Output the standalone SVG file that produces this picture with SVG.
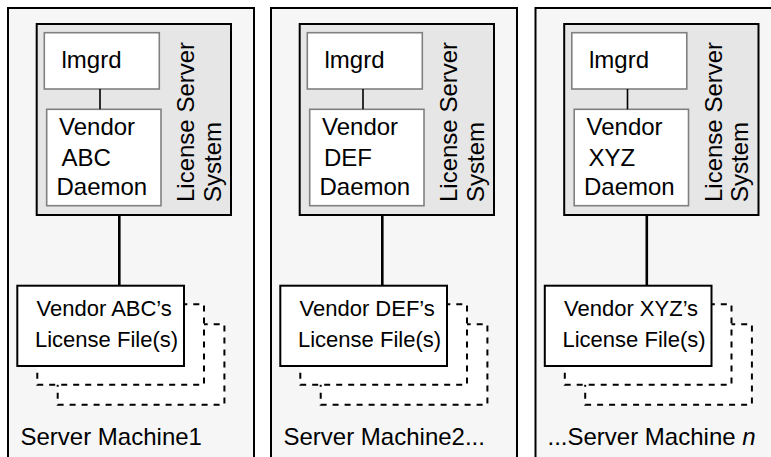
<svg xmlns="http://www.w3.org/2000/svg" width="771" height="457" viewBox="0 0 771 457">
<defs>
<style>
.panel{fill:#f6f6f6;stroke:#000;stroke-width:2}
.lss{fill:#e6e6e6;stroke:#000;stroke-width:2}
.inner{fill:#fff;stroke:#808080;stroke-width:1.6}
.file{fill:#fff;stroke:#000;stroke-width:2}
.dash{fill:#fff;stroke:#000;stroke-width:2;stroke-dasharray:6,6}
.thin{stroke:#000;stroke-width:1.6;fill:none}
.thick{stroke:#000;stroke-width:2.6;fill:none}
text{font-family:"Liberation Sans",Arial,Helvetica,sans-serif;fill:#000}
.t{font-size:24px}
.f{font-size:22px}
</style>
<g id="machineTpl">
<rect class="panel" x="8" y="8" width="246" height="470"/>
<rect class="lss" x="36.7" y="24" width="194.3" height="191"/>
<rect class="inner" x="44.3" y="32.7" width="115" height="56.3"/>
<rect class="inner" x="46.7" y="109.3" width="114.3" height="96.4"/>
<text class="t" x="61.5" y="67.7">lmgrd</text>
<text class="t" transform="translate(194,202) rotate(-90)">License Server</text>
<text class="t" transform="translate(220.5,202) rotate(-90)">System</text>
<rect class="dash" x="57.7" y="324.3" width="166.7" height="80.5"/>
<rect class="dash" x="37.3" y="304.3" width="166.7" height="80.5"/>
<rect class="file" x="17.3" y="285.7" width="166.7" height="80.3"/>
<text class="f" x="35" y="347">License File(s)</text>
</g>
</defs>
<g id="machine1">
<use href="#machineTpl"/>
<text class="t" x="59" y="135">Vendor</text>
<text class="t" x="61.5" y="166">ABC</text>
<text class="t" x="56.5" y="195">Daemon</text>
<text class="f" x="36.5" y="316">Vendor ABC’s</text>
<text class="t" x="20.5" y="445">Server Machine1</text>
</g>
<g id="machine2" transform="translate(263,0)">
<use href="#machineTpl"/>
<text class="t" x="59" y="135">Vendor</text>
<text class="t" x="61" y="166">DEF</text>
<text class="t" x="56.5" y="195">Daemon</text>
<text class="f" x="36.5" y="316">Vendor DEF’s</text>
<text class="t" x="20.5" y="445">Server Machine2...</text>
</g>
<g id="machine3" transform="translate(527.5,0)">
<use href="#machineTpl"/>
<text class="t" x="59" y="135">Vendor</text>
<text class="t" x="61" y="166">XYZ</text>
<text class="t" x="56.5" y="195">Daemon</text>
<text class="f" x="36.5" y="316">Vendor XYZ’s</text>
<text class="t" x="20" y="445">...Server Machine <tspan font-style="italic">n</tspan></text>
</g>
<g id="connectors">
<line class="thin" x1="100" y1="89" x2="100" y2="109.3"/>
<line class="thick" x1="119.3" y1="215" x2="119.3" y2="285.7"/>
<line class="thin" x1="363" y1="89" x2="363" y2="109.3"/>
<line class="thick" x1="382.3" y1="215" x2="382.3" y2="285.7"/>
<line class="thin" x1="627.5" y1="89" x2="627.5" y2="109.3"/>
<line class="thick" x1="646.8" y1="215" x2="646.8" y2="285.7"/>
</g>
</svg>
